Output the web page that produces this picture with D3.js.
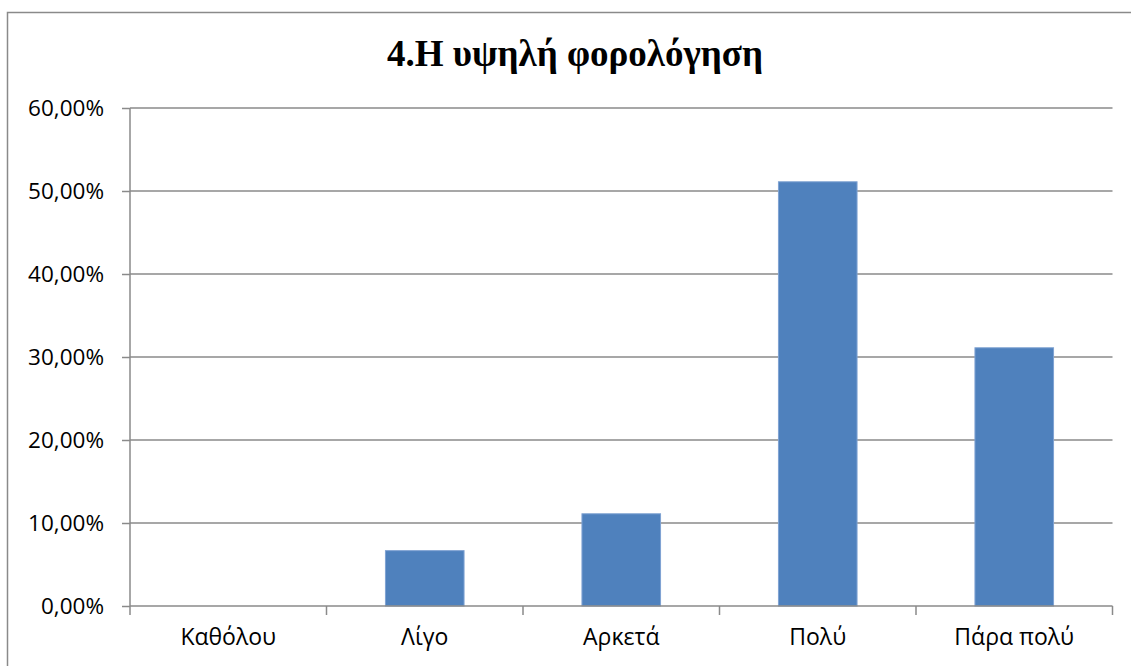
<!DOCTYPE html>
<html>
<head>
<meta charset="utf-8">
<script src="https://cdn.jsdelivr.net/npm/d3@7"></script>
<style>
  html, body { margin: 0; padding: 0; background: #fff; overflow: hidden; }
  svg { display: block; }
</style>
</head>
<body>
<svg id="chart" width="1131" height="666"></svg>
<script>
// Survey answers: share of respondents per level of agreement
const categories = ["Καθόλου", "Λίγο", "Αρκετά", "Πολύ", "Πάρα πολύ"];
const shares = [0, 0.0667, 0.1111, 0.5111, 0.3111];
const yTicks = [0, 0.1, 0.2, 0.3, 0.4, 0.5, 0.6];
const title = "4.Η υψηλή φορολόγηση";

const svg = d3.select("#chart");
const W = 1131, H = 666;
const plot = { left: 130, right: 1112.5, top: 108, bottom: 606 };
const gridColor = "#8a8a8a";
const labelFont = "'Open Sans', 'Noto Sans', sans-serif";

// Chart frame: only its left and top edges fall inside the page
svg.append("path")
  .attr("d", `M7.5,${H}V12.5H${W}`)
  .attr("fill", "none")
  .attr("stroke", gridColor).attr("stroke-width", 1.5);

svg.append("text")
  .attr("x", 575).attr("y", 66)
  .attr("text-anchor", "middle")
  .attr("font-family", "'Liberation Serif', 'Times New Roman', serif")
  .attr("font-weight", "bold")
  .attr("font-size", 37)
  .attr("fill", "#000")
  .text(title);

const x = d3.scaleBand()
  .domain(categories)
  .range([plot.left, plot.right])
  .paddingInner(0.6)
  .paddingOuter(0.3);

const y = d3.scaleLinear()
  .domain([0, 0.6])
  .range([plot.bottom, plot.top]);

const fmt = v => d3.format(".2f")(v * 100).replace(".", ",") + "%";

// Horizontal gridlines
svg.append("g")
  .selectAll("line")
  .data(yTicks.filter(t => t > 0))
  .join("line")
  .attr("x1", plot.left).attr("x2", plot.right)
  .attr("y1", d => y(d)).attr("y2", d => y(d))
  .attr("stroke", gridColor).attr("stroke-width", 1.5);

// Y axis
const yAxis = svg.append("g")
  .attr("transform", `translate(${plot.left},0)`)
  .call(d3.axisLeft(y).tickValues(yTicks).tickFormat(fmt).tickSize(8).tickPadding(18));
yAxis.select(".domain").attr("stroke", gridColor).attr("stroke-width", 1.5)
  .attr("d", `M0,${plot.top}V${plot.bottom}`);
yAxis.selectAll(".tick line").attr("stroke", gridColor).attr("stroke-width", 1.5);
yAxis.selectAll(".tick text")
  .attr("font-family", labelFont)
  .attr("font-size", 22.5)
  .attr("fill", "#000");

// Bars
svg.append("g")
  .selectAll("rect")
  .data(categories.map((c, i) => ({ c, v: shares[i] })))
  .join("rect")
  .attr("x", d => x(d.c))
  .attr("width", x.bandwidth())
  .attr("y", d => y(d.v))
  .attr("height", d => y(0) - y(d.v))
  .attr("fill", "#4f81bd")
  .attr("stroke", "#7fa2d2")
  .attr("stroke-width", d => d.v > 0 ? 1 : 0);

// X axis with category boundary ticks
const xg = svg.append("g");
xg.append("line")
  .attr("x1", plot.left).attr("x2", plot.right)
  .attr("y1", plot.bottom).attr("y2", plot.bottom)
  .attr("stroke", gridColor).attr("stroke-width", 1.5);
const step = x.step();
xg.selectAll("line.tk")
  .data(d3.range(categories.length + 1))
  .join("line")
  .attr("class", "tk")
  .attr("x1", i => plot.left + i * step).attr("x2", i => plot.left + i * step)
  .attr("y1", plot.bottom).attr("y2", plot.bottom + 9)
  .attr("stroke", gridColor).attr("stroke-width", 1.5);
xg.selectAll("text")
  .data(categories)
  .join("text")
  .attr("x", d => x(d) + x.bandwidth() / 2)
  .attr("y", 645)
  .attr("text-anchor", "middle")
  .attr("font-family", labelFont)
  .attr("font-size", 23)
  .attr("fill", "#000")
  .text(d => d);
</script>
</body>
</html>
